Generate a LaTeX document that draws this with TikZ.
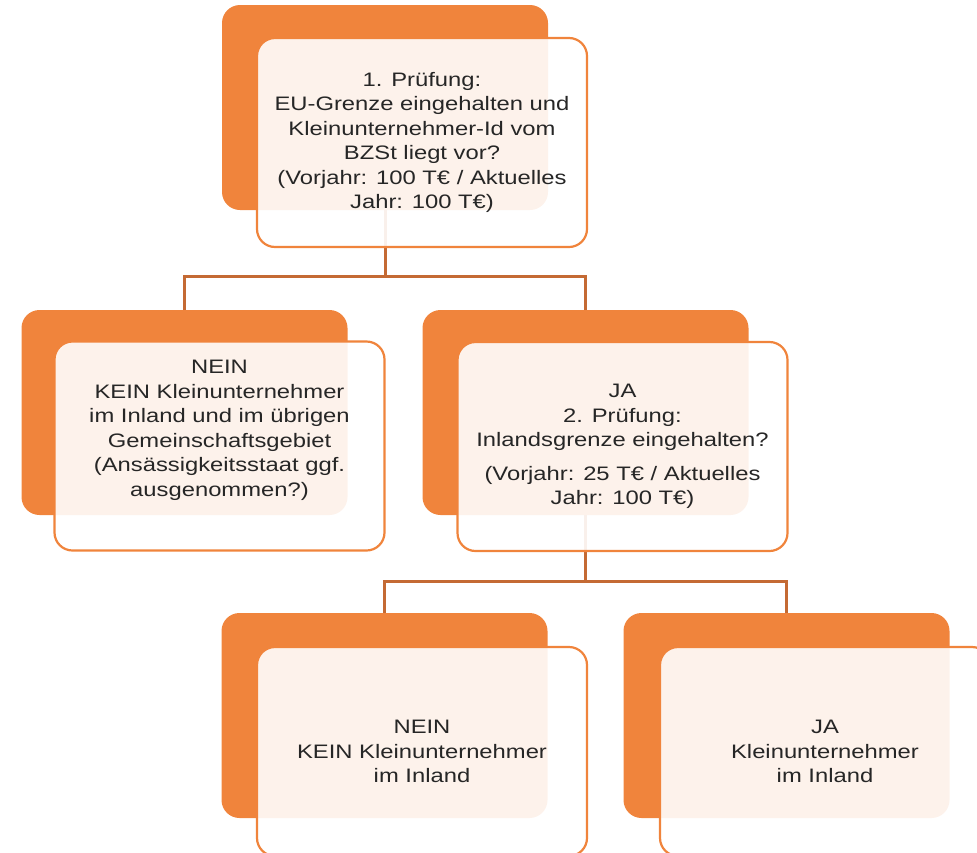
\documentclass[tikz,border=0pt]{standalone}
\usepackage{fontspec}
\setmainfont{Liberation Sans}[FakeStretch=1.22]
\usepackage{tikz}
\definecolor{kastenorange}{RGB}{240,132,60}
\definecolor{linienorange}{RGB}{196,106,52}
\newcommand{\backcol}{kastenorange}
\newcommand{\linecol}{linienorange}

\tikzset{
  backbox/.style={draw=none, fill=\backcol, rounded corners=18pt,
    minimum width=326pt, minimum height=205pt},
  frontbox/.style={draw=\backcol, line width=2.2pt, fill=white,
    fill opacity=0.9, text opacity=1, rounded corners=18pt,
    minimum width=330pt, minimum height=209pt, align=center,
    text=black!85, font=\fontsize{19.5}{24.5}\selectfont},
  link/.style={draw=\linecol, line width=3pt},
}

\begin{document}
\begin{tikzpicture}[x=1pt, y=-1pt]

    \clip (0, 0) rectangle (977, 852);

    % hintere Kaesten
    \node[backbox] (pruef1b) at (385, 107.5) {};
    \node[backbox] (nein1b) at (184.5, 412.5) {};
    \node[backbox] (ja1b) at (585.5, 412.5) {};
    \node[backbox] (nein2b) at (384.5, 715.5) {};
    \node[backbox] (ja2b) at (786.5, 715.5) {};

    % Verbindungen
    \coordinate (gabel1) at (pruef1b.south |- 0, 276);
    \coordinate (gabel2) at (ja1b.south |- 0, 581);
    \draw[link] (pruef1b.south) -- (gabel1);
    \draw[link] (gabel1) -| (nein1b.north);
    \draw[link] (gabel1) -| (ja1b.north);
    \draw[link] (ja1b.south) -- (gabel2);
    \draw[link] (gabel2) -| (nein2b.north);
    \draw[link] (gabel2) -| (ja2b.north);

    % vordere Kaesten
    \node[frontbox] (pruef1) at (422, 142.5) {1. Prüfung:\\EU-Grenze eingehalten und\\Kleinunternehmer-Id vom\\BZSt liegt vor?\\(Vorjahr: 100 T€ / Aktuelles\\Jahr: 100 T€)};
    \node[frontbox] (nein1) at (219.5, 446) {\raisebox{16pt}[\height][\depth]{\begin{tabular}{@{}c@{}}NEIN\\KEIN Kleinunternehmer\\im Inland und im übrigen\\Gemeinschaftsgebiet\\(Ansässigkeitsstaat ggf.\\ausgenommen?)\end{tabular}}};
    \node[frontbox] (ja1) at (622.5, 446.5) {JA\\2. Prüfung:\\Inlandsgrenze eingehalten?\\[9pt](Vorjahr: 25 T€ / Aktuelles\\Jahr: 100 T€)};
    \node[frontbox] (nein2) at (422, 751.5) {NEIN\\KEIN Kleinunternehmer\\im Inland};
    \node[frontbox] (ja2) at (825, 751.5) {JA\\Kleinunternehmer\\im Inland};

\end{tikzpicture}
\end{document}
